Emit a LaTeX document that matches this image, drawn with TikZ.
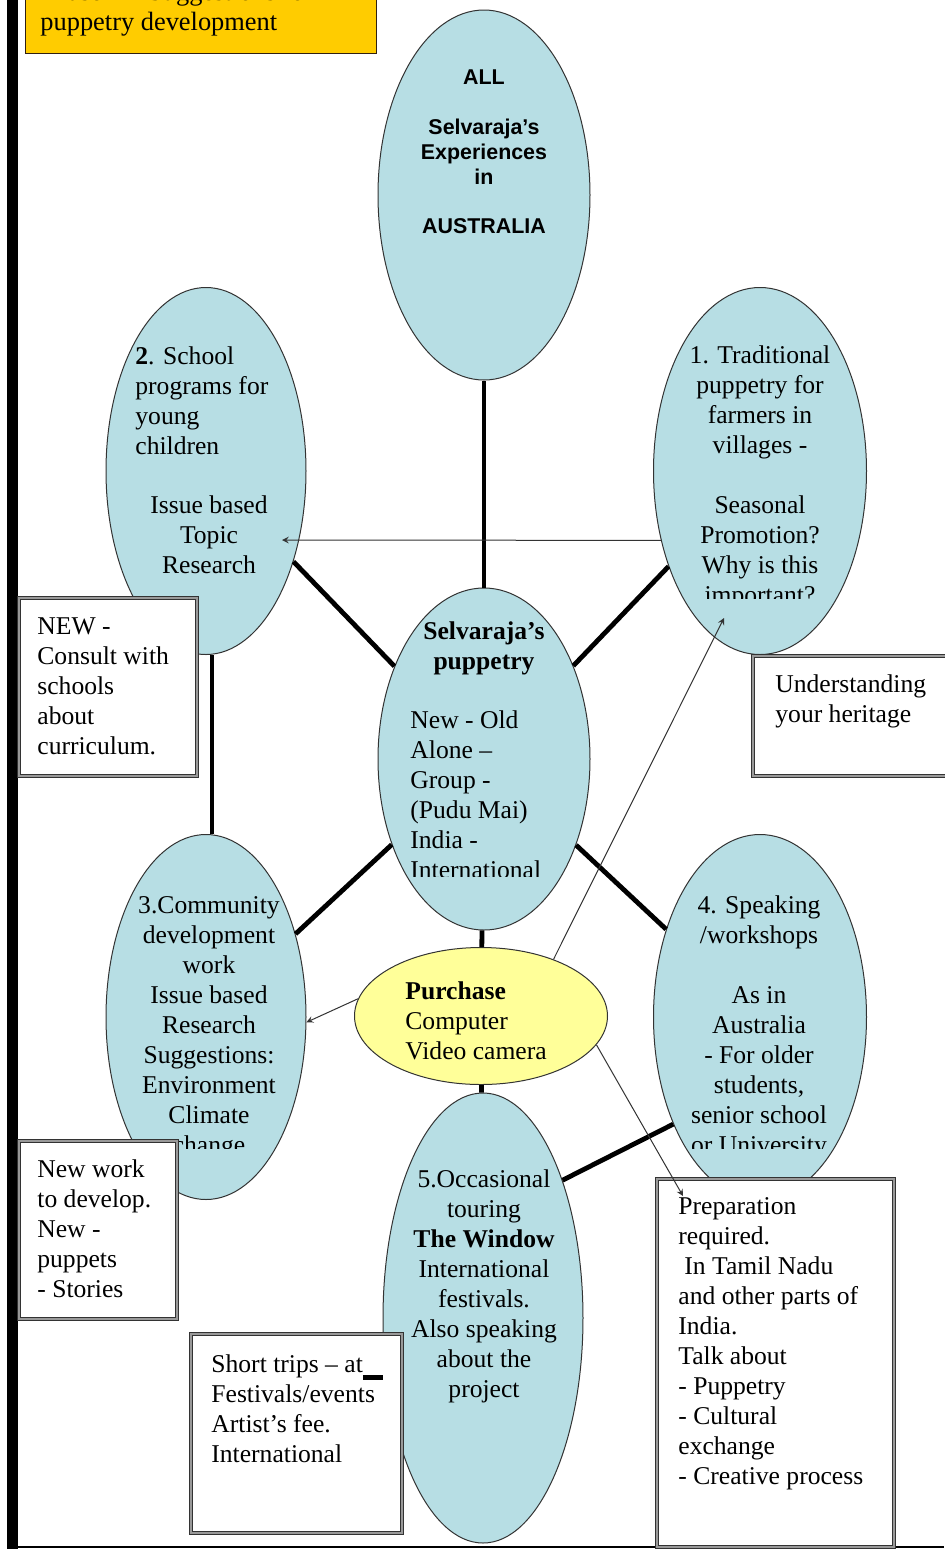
\documentclass[tikz,border=0pt]{standalone}
\usepackage{fontspec}
\setmainfont{Liberation Serif}
\setsansfont{Liberation Sans}
\usetikzlibrary{shapes.geometric, arrows}

\definecolor{bubblefill}{RGB}{183,222,228}
\definecolor{buyfill}{RGB}{255,255,153}
\definecolor{titlefill}{RGB}{255,204,0}

\tikzstyle{bubble} = [ellipse, draw=black!80, line width=0.5pt, fill=bubblefill, inner sep=0pt]
\tikzstyle{words} = [inner sep=0pt, font=\fontsize{12.8}{15}\selectfont]
\tikzstyle{note} = [rectangle, draw=black!80, line width=0.5pt, double=black!40, double distance=1pt, fill=white, inner sep=0pt]
\tikzstyle{link} = [line width=2.4pt]
\tikzstyle{arrow} = [draw=black!80, line width=0.5pt,->,>=stealth]

\begin{document}
\begin{tikzpicture}[x=0.5pt,y=-0.5pt]

    \useasboundingbox (0,0) rectangle (944,1549);
    \fill[white] (0,0) rectangle (944,1549);

    % Frame
    \fill[black] (7,0) rectangle (18,1549);
    \draw[line width=0.8pt] (18,1547) -- (944,1547);

    % Title
    \node (title) [rectangle, draw=black!75!brown, line width=0.6pt, fill=titlefill, anchor=south west, minimum width=175.5pt, minimum height=45pt] at (25,54) {};
    \node (titletext) [words, align=left, anchor=west, font=\fontsize{13.2}{15}\selectfont] at (40,9) {Phase 4 -- Suggestions for\\puppetry development};

    % Nodes
    \node (australia) [bubble, minimum width=106pt, minimum height=185pt] at (484,195) {};
    \node (school) [bubble, minimum width=100pt, minimum height=183.5pt] at (206,471) {};
    \node (traditional) [bubble, minimum width=106.5pt, minimum height=183.5pt] at (760,471) {};
    \node (puppetry) [bubble, minimum width=106pt, minimum height=171pt] at (484,759) {};
    \node (community) [bubble, minimum width=100pt, minimum height=182.5pt] at (206,1017) {};
    \node (speaking) [bubble, minimum width=106.5pt, minimum height=182.5pt] at (760,1017) {};
    \node (touring) [bubble, minimum width=100pt, minimum height=225pt] at (483,1318) {};
    \node (purchase) [bubble, fill=buyfill, minimum width=126.5pt, minimum height=68.5pt] at (481,1016) {};

    % Links
    \draw [link] (australia) -- (puppetry);
    \draw [link] (school) -- (puppetry);
    \draw [link] (traditional) -- (puppetry);
    \draw [link] (community) -- (puppetry);
    \draw [link] (speaking) -- (puppetry);
    \draw [link] ([xshift=3pt]school.south) -- ([xshift=3pt]community.north);
    \draw [link] (puppetry) -- (purchase);
    \draw [link] (purchase) -- (touring);
    \draw [link] (touring.60) -- (speaking.231);

    % Texts in the bubbles
    \node (australiatext) [words, align=center, font=\sffamily\bfseries\fontsize{10.7}{12.4}\selectfont] at (484,152) {ALL\\[12.4pt]Selvaraja's\\Experiences\\in\\[12.4pt]AUSTRALIA};
    \node (schooltop) [words, align=left, anchor=west] at (135,401) {\textbf{2}. School\\programs for\\young\\children};
    \node (schoolbot) [words, align=center] at (209,535) {Issue based\\Topic\\Research};
    \begin{scope}
        \clip (640,300) rectangle (880,598);
        \node (traditionaltext) [words, align=center] at (760,477) {1. Traditional\\puppetry for\\farmers in\\villages -\\[15pt]Seasonal\\Promotion?\\Why is this\\important?};
    \end{scope}
    \node (puppetrytop) [words, align=center, font=\bfseries\fontsize{12.8}{15}\selectfont] at (484,648) {Selvaraja's\\puppetry};
    \begin{scope}
        \clip (390,690) rectangle (580,876);
        \node (puppetrybot) [words, align=left, anchor=west] at (410,795) {New - Old\\Alone --\\Group -\\(Pudu Mai)\\India -\\International};
    \end{scope}
    \begin{scope}
        \clip (110,880) rectangle (300,1148);
        \node (communitytext) [words, align=center] at (209,1028) {3.Community\\development\\work\\Issue based\hspace*{16pt}\\Research\\Suggestions:\\Environment\\Climate\\change};
    \end{scope}
    \begin{scope}
        \clip (660,880) rectangle (860,1148);
        \node (speakingtext) [words, align=center] at (759,1027) {4. Speaking\\/workshops\\[15pt]As in\\Australia\\- For older\\students,\\senior school\\or University};
    \end{scope}
    \node (purchasetext) [words, align=left, anchor=west] at (405,1021) {\textbf{Purchase}\\Computer\\Video camera};
    \node (touringtext) [words, align=center] at (484,1286) {5.Occasional\\touring\\\textbf{The Window}\\International\\festivals.\\Also speaking\\about the\\project};

    % Arrows
    \coordinate (topicpt) at (282,540);
    \coordinate (villagept) at (724,618);
    \coordinate (preppt) at (683,1196);
    \draw [arrow] (traditional.215) -- (topicpt);
    \draw [arrow] (purchase.38) -- (villagept);
    \draw [arrow] (purchase.172) -- (community.-3);

    % Notes
    \node (consult) [note, anchor=north west, minimum width=89pt, minimum height=89pt] at (18,597) {};
    \node (heritage) [note, anchor=north west, minimum width=99pt, minimum height=60pt] at (752,655) {};
    \node (newwork) [note, anchor=north west, minimum width=79pt, minimum height=89pt] at (18,1140) {};
    \node (shorttrips) [note, anchor=north west, minimum width=105.5pt, minimum height=99.5pt] at (190,1333) {};
    \node (preparation) [note, anchor=north west, minimum width=118.5pt, minimum height=184pt] at (656,1178) {};

    \node (consulttext) [words, align=left, anchor=west] at (37,686) {NEW -\\Consult with\\schools\\about\\curriculum.};
    \node (heritagetext) [words, align=left, anchor=west] at (775,701) {Understanding\\your heritage};
    \node (newworktext) [words, align=left, anchor=west] at (37,1229) {New work\\to develop.\\New -\\puppets\\- Stories};
    \node (shorttripstext) [words, align=left, anchor=west] at (211,1409) {Short trips -- at\rule[-3.5pt]{10pt}{2.5pt}\\Festivals/events\\Artist's fee.\\International};
    \node (preparationtext) [words, align=left, anchor=west] at (678,1344) {Preparation\\required.\\\hspace*{3pt}In Tamil Nadu\\and other parts of\\India.\\Talk about\\- Puppetry\\- Cultural\\exchange\\- Creative process};

    \draw [arrow] (purchase.-14) -- (preppt);

\end{tikzpicture}
\end{document}
